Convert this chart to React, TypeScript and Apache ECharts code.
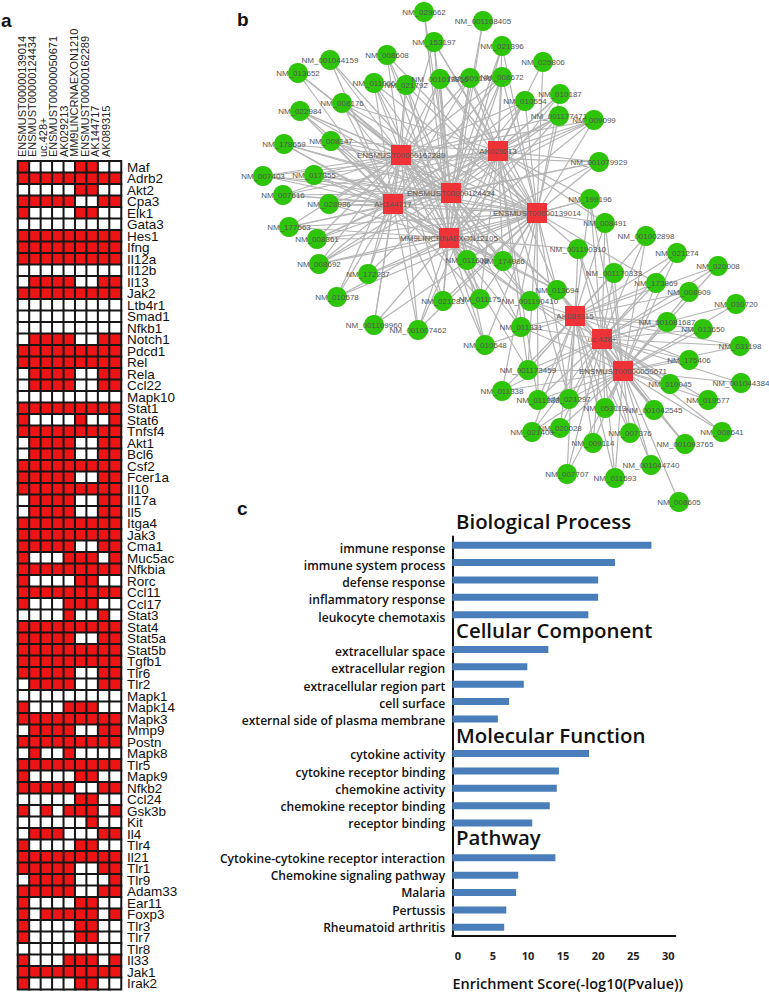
import React, { useEffect, useRef } from "react";
import * as echarts from "echarts";

// ---------- panel a ----------
const lncRnas = ["ENSMUST00000139014", "ENSMUST00000124434", "uc.428+", "ENSMUST00000050671", "AK029213", "MM9LINCRNAEXON1210", "ENSMUST00000162289", "AK144717", "AK089315"];
const genes = ["Maf", "Adrb2", "Akt2", "Cpa3", "Elk1", "Gata3", "Hes1", "Ifng", "Il12a", "Il12b", "Il13", "Jak2", "Ltb4r1", "Smad1", "Nfkb1", "Notch1", "Pdcd1", "Rel", "Rela", "Ccl22", "Mapk10", "Stat1", "Stat6", "Tnfsf4", "Akt1", "Bcl6", "Csf2", "Fcer1a", "Il10", "Il17a", "Il5", "Itga4", "Jak3", "Cma1", "Muc5ac", "Nfkbia", "Rorc", "Ccl11", "Ccl17", "Stat3", "Stat4", "Stat5a", "Stat5b", "Tgfb1", "Tlr6", "Tlr2", "Mapk1", "Mapk14", "Mapk3", "Mmp9", "Postn", "Mapk8", "Tlr5", "Mapk9", "Nfkb2", "Ccl24", "Gsk3b", "Kit", "Il4", "Tlr4", "Il21", "Tlr1", "Tlr9", "Adam33", "Ear11", "Foxp3", "Tlr3", "Tlr7", "Tlr8", "Il33", "Jak1", "Irak2"];
const targetRows = [
  "100001100", "111111111", "000001100", "111110011", "100001100", "000000000",
  "111111111", "111111111", "111111111", "000000000", "011110011", "111111111",
  "000000000", "000000000", "000000000", "011110011", "111111111", "111111111",
  "011110011", "011110011", "000000000", "111111111", "100001001", "111111111",
  "011110011", "011110011", "111111111", "111110011", "111111111", "011110011",
  "011110011", "111111111", "111111111", "111110011", "100011101", "111111111",
  "100001100", "111111111", "100011100", "000010010", "111111111", "111110011",
  "111111111", "111111111", "111110011", "011110011", "000000000", "100011100",
  "111111111", "011110011", "111111111", "010010000", "111111111", "100001100",
  "111110011", "000001100", "101011101", "000000100", "011100011", "100001100",
  "111111111", "111110011", "011110001", "111110011", "100001100", "101111101",
  "100001100", "100001100", "000000000", "100011101", "111111111", "100001100",
];

// ---------- panel b ----------
const hubNames = ["ENSMUST00000162289", "AK144717", "ENSMUST00000124434", "MM9LINCRNAEXON12105", "AK029213", "ENSMUST00000139014", "AK089315", "uc.428+", "ENSMUST00000050671"];
const hubX = [401, 393, 451, 449, 498, 537, 575, 602, 623];
const hubY = [155, 204, 193, 238, 151, 213, 316, 339, 371];
const mrnaNames = [
  "NM_029662", "NM_001168405", "NM_153197", "NM_021396", "NM_025806", "NM_008608", "NM_001044159", "NM_013652", "NM_011066", "NM_021792",
  "NM_001013856", "NM_009196", "NM_008672", "NM_010187", "NM_010554", "NM_001177471", "NM_009099", "NM_001079929", "NM_008176", "NM_022984",
  "NM_008147", "NM_178659", "NM_007403", "NM_017355", "NM_007616", "NM_028986", "NM_177563", "NM_008361", "NM_008692", "NM_172237",
  "NM_010578", "NM_001109960", "NM_001007462", "NM_021283", "NM_011175", "NM_011609", "NM_174986", "NM_010548", "NM_199196", "NM_008491",
  "NM_001002898", "NM_001190310", "NM_021274", "NM_020008", "NM_001170333", "NM_173869", "NM_008909", "NM_013694", "NM_001190410", "NM_030720",
  "NM_001081687", "NM_013650", "NM_011331", "NM_031198", "NM_175406", "NM_001173459", "NM_001044384", "NM_010045", "NM_019577", "NM_011338",
  "NM_011333", "NM_021297", "NM_053113", "NM_001042545", "NM_021400", "NM_020028", "NM_007376", "NM_008641", "NM_009114", "NM_001093765",
  "NM_001044740", "NM_007707", "NM_011593", "NM_008605",
];
const mrnaX = [
  424, 483, 434, 502, 543, 387, 330, 298, 374, 406,
  440, 470, 502, 560, 525, 559, 594, 599, 342, 300,
  331, 284, 263, 314, 283, 329, 289, 317, 319, 368,
  337, 374, 418, 443, 480, 467, 503, 485, 590, 605,
  646, 578, 677, 718, 614, 656, 689, 557, 530, 736,
  667, 703, 521, 740, 689, 528, 741, 670, 708, 502,
  538, 569, 605, 654, 532, 560, 630, 722, 593, 685,
  651, 567, 615, 679,
];
const mrnaY = [
  12, 21, 42, 46, 62, 55, 60, 73, 83, 85,
  79, 78, 77, 94, 101, 116, 120, 162, 103, 111,
  141, 144, 176, 175, 195, 204, 227, 239, 264, 274,
  297, 325, 330, 301, 299, 260, 261, 345, 199, 223,
  236, 249, 253, 266, 273, 283, 292, 290, 301, 304,
  322, 329, 327, 346, 360, 370, 383, 384, 400, 391,
  400, 399, 408, 410, 432, 428, 433, 432, 443, 444,
  465, 474, 478, 502,
];
const mrnaLinks = [
  "23", "23", "02345", "2345", "45", "0235", "012", "012", "01235", "01235",
  "012345", "012345", "012345", "2345", "012345", "012345", "012345", "012345", "012345", "01235",
  "012345", "01235", "01245", "012345", "01245", "012345", "01235", "012345", "012345", "01235",
  "0135", "0135", "01345", "01235", "012345", "012345", "012345", "02356", "345678", "45678",
  "678", "35678", "678", "678", "678", "5678", "678", "012345678", "0123678", "78",
  "678", "678", "23678", "678", "678", "345678", "78", "678", "78", "5678",
  "45678", "45678", "678", "678", "678", "678", "678", "78", "678", "78",
  "78", "678", "678", "8",
];

// ---------- panel c ----------
const termLabels = [
  "immune response", "immune system process", "defense response", "inflammatory response", "leukocyte chemotaxis", "",
  "extracellular space", "extracellular region", "extracellular region part", "cell surface", "external side of plasma membrane", "",
  "cytokine activity", "cytokine receptor binding", "chemokine activity", "chemokine receptor binding", "receptor binding", "",
  "Cytokine-cytokine receptor interaction", "Chemokine signaling pathway", "Malaria", "Pertussis", "Rheumatoid arthritis",
];
const enrichment = [
  27.6, 22.4, 20.0, 20.0, 18.6, null,
  12.9, 9.9, 9.4, 7.3, 5.7, null,
  18.7, 14.4, 14.1, 13.1, 10.6, null,
  13.9, 8.6, 8.3, 6.9, 6.6,
];
const enrichmentTicks = [0, 5, 10, 15, 20, 25, 30];
const sectionTitles = ["Biological Process", "Cellular Component", "Molecular Function", "Pathway"];
const sectionTitleY = [525, 634, 739, 841];

const SANS = "'Liberation Sans', Arial, sans-serif";
const HEAD = "'Open Sans', 'Noto Sans', sans-serif";
const RED = "#ec1414";
const GREEN = "#2ec40a";
const HUB = "#ee3338";

export default function App() {
  const ref = useRef<HTMLDivElement>(null);
  useEffect(() => {
    document.body.style.margin = "0";
    document.body.style.background = "#fff";
    const chart = echarts.init(ref.current!, null, { renderer: "svg" });

    const heat: number[][] = [];
    targetRows.forEach((row, r) => {
      row.split("").forEach((c, k) => heat.push([k, r, Number(c)]));
    });

    const nodes = [
      ...mrnaNames.map((name, i) => ({
        name,
        value: [mrnaX[i], mrnaY[i]],
        symbol: "circle",
        symbolSize: 20,
        itemStyle: { color: GREEN },
      })),
      ...hubNames.map((name, i) => ({
        name,
        value: [hubX[i], hubY[i]],
        symbol: "rect",
        symbolSize: 20,
        itemStyle: { color: HUB },
      })),
    ];
    const links: { source: number; target: number }[] = [];
    mrnaLinks.forEach((s, i) => {
      s.split("").forEach((h) => links.push({ source: i, target: mrnaNames.length + Number(h) }));
    });

    const hiddenValue = { type: "value", show: false };

    chart.setOption({
      animation: false,
      backgroundColor: "#fff",
      grid: [
        { left: 18, top: 161.3, width: 103, height: 828 },
        { left: 16.5, top: 161, width: 94.5, height: 1 },
        { left: 0, top: 0, width: 769, height: 510 },
        { left: 452.3, top: 536.5, width: 223, height: 404 },
        { left: 452.3, top: 539.4, width: 223, height: 396.7 },
      ],
      xAxis: [
        { gridIndex: 0, type: "category", data: lncRnas, axisLine: { show: false }, axisTick: { show: false }, axisLabel: { show: false }, splitLine: { show: false } },
        {
          gridIndex: 1, type: "category", data: lncRnas, position: "top",
          axisLine: { show: false }, axisTick: { show: false },
          axisLabel: { interval: 0, rotate: 90, margin: 4, fontFamily: SANS, fontSize: 11, color: "#222" },
        },
        { ...hiddenValue, gridIndex: 2, min: 0, max: 769 },
        {
          gridIndex: 3, type: "value", min: -0.8, max: 31, startValue: -0.8,
          splitLine: { show: false }, axisTick: { show: false },
          axisLine: { show: true, onZero: false, lineStyle: { color: "#111", width: 2 } },
          axisLabel: { customValues: enrichmentTicks, margin: 14, fontFamily: HEAD, fontWeight: 700, fontSize: 11, color: "#222" },
          name: "Enrichment Score(-log10(Pvalue))",
          nameLocation: "middle",
          nameGap: 40,
          nameTextStyle: { fontFamily: HEAD, fontWeight: 600, fontSize: 14.5, color: "#111", padding: [0, 0, 0, 8] },
        },
        { gridIndex: 4, type: "value", show: false, min: 0, max: 1 },
      ],
      yAxis: [
        {
          gridIndex: 0, type: "category", data: genes, inverse: true,
          axisLine: { show: false }, axisTick: { show: false },
          position: "right",
          axisLabel: { interval: 0, margin: 6, fontFamily: SANS, fontSize: 13.5, color: "#111", verticalAlign: "middle", padding: [0, 0, 3, 0] },
        },
        { gridIndex: 1, type: "value", show: false },
        { ...hiddenValue, gridIndex: 2, min: 0, max: 510, inverse: true },
        {
          gridIndex: 3, type: "category", data: termLabels, inverse: true,
          axisTick: { show: false }, axisLabel: { show: false },
          axisLine: { show: true, onZero: false, lineStyle: { color: "#111", width: 2 } },
        },
        {
          gridIndex: 4, type: "category", data: termLabels, inverse: true,
          axisLine: { show: false }, axisTick: { show: false },
          axisLabel: { interval: 0, margin: 7, fontFamily: HEAD, fontWeight: 600, fontSize: 12.1, color: "#111" },
        },
      ],
      visualMap: {
        show: false,
        type: "piecewise",
        seriesIndex: 0,
        dimension: 2,
        pieces: [
          { value: 0, color: "#ffffff" },
          { value: 1, color: RED },
        ],
      },
      series: [
        {
          type: "heatmap",
          xAxisIndex: 0,
          yAxisIndex: 0,
          data: heat,
          itemStyle: { borderColor: "#161616", borderWidth: 2 },
          emphasis: { disabled: true },
        },
        {
          type: "graph",
          coordinateSystem: "cartesian2d",
          xAxisIndex: 2,
          yAxisIndex: 2,
          layout: "none",
          data: nodes,
          links,
          edgeSymbol: ["none", "none"],
          lineStyle: { color: "#b4b4b4", width: 1.2, opacity: 1, curveness: 0 },
          label: {
            show: true,
            position: "inside",
            formatter: "{b}",
            fontFamily: SANS,
            fontSize: 8,
            color: "#555555",
          },
          emphasis: { disabled: true },
        },
        {
          type: "bar",
          xAxisIndex: 3,
          yAxisIndex: 3,
          data: enrichment,
          barWidth: 7,
          itemStyle: { color: "#4a7ebb" },
        },
      ],
      graphic: [
        { type: "text", left: 1, top: 11, style: { text: "a", fontFamily: SANS, fontWeight: 700, fontSize: 19, fill: "#111" } },
        { type: "text", left: 237, top: 10, style: { text: "b", fontFamily: SANS, fontWeight: 700, fontSize: 19, fill: "#111" } },
        { type: "text", left: 237, top: 499, style: { text: "c", fontFamily: SANS, fontWeight: 700, fontSize: 19, fill: "#111" } },
        ...sectionTitles.map((t, i) => ({
          type: "text",
          left: 456,
          top: sectionTitleY[i] - 14,
          style: { text: t, fontFamily: HEAD, fontWeight: 600, fontSize: 20.4, fill: "#111", textVerticalAlign: "top" },
        })),
      ],
    });
    return () => chart.dispose();
  }, []);
  return <div ref={ref} style={{ width: 769, height: 992 }} />;
}
